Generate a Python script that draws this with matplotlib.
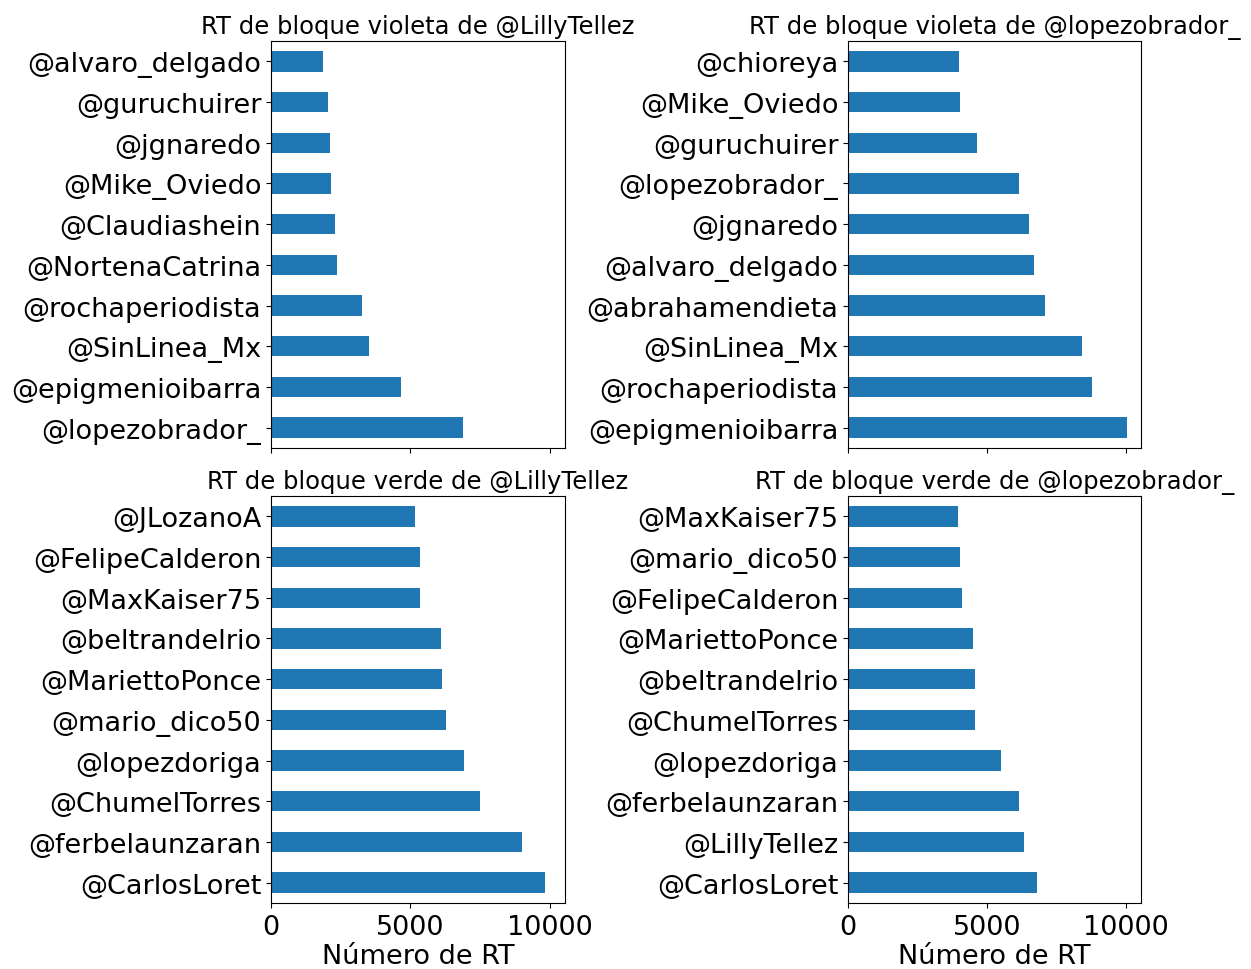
import matplotlib
matplotlib.use("Agg")
import matplotlib.pyplot as plt
import numpy as np

# listas de abajo hacia arriba (como salen de value_counts + barh)
violeta_lilly = ['@lopezobrador_', '@epigmenioibarra', '@SinLinea_Mx', '@rochaperiodista',
                 '@NortenaCatrina', '@Claudiashein', '@Mike_Oviedo', '@jgnaredo',
                 '@guruchuirer', '@alvaro_delgado']
violeta_lilly_n = [6876, 4656, 3528, 3276, 2352, 2292, 2136, 2100, 2040, 1848]

violeta_amlo = ['@epigmenioibarra', '@rochaperiodista', '@SinLinea_Mx', '@abrahamendieta',
                '@alvaro_delgado', '@jgnaredo', '@lopezobrador_', '@guruchuirer',
                '@Mike_Oviedo', '@chioreya']
violeta_amlo_n = [10040, 8782, 8433, 7098, 6701, 6508, 6159, 4632, 4030, 3982]

verde_lilly = ['@CarlosLoret', '@ferbelaunzaran', '@ChumelTorres', '@lopezdoriga',
               '@mario_dico50', '@MariettoPonce', '@beltrandelrio', '@MaxKaiser75',
               '@FelipeCalderon', '@JLozanoA']
verde_lilly_n = [9840, 9000, 7512, 6924, 6276, 6132, 6084, 5340, 5340, 5148]

verde_amlo = ['@CarlosLoret', '@LillyTellez', '@ferbelaunzaran', '@lopezdoriga',
              '@ChumelTorres', '@beltrandelrio', '@MariettoPonce', '@FelipeCalderon',
              '@mario_dico50', '@MaxKaiser75']
verde_amlo_n = [6809, 6316, 6159, 5522, 4583, 4583, 4487, 4090, 4042, 3946]

titulos = ['RT de bloque violeta de @LillyTellez', 'RT de bloque violeta de @lopezobrador_',
           'RT de bloque verde de @LillyTellez', 'RT de bloque verde de @lopezobrador_']

W, H = 1251, 970
fig = plt.figure(figsize=(W/100, H/100), dpi=100)

def box(l, r, t, b):
    return [l/W, 1 - b/H, (r - l)/W, (b - t)/H]

ax1 = fig.add_axes(box(271, 565, 42, 449))
ax2 = fig.add_axes(box(848, 1141, 42, 449), sharex=ax1)
ax3 = fig.add_axes(box(271, 565, 497, 904), sharex=ax1)
ax4 = fig.add_axes(box(848, 1141, 497, 904), sharex=ax1)

datos = [(violeta_lilly, violeta_lilly_n), (violeta_amlo, violeta_amlo_n),
         (verde_lilly, verde_lilly_n), (verde_amlo, verde_amlo_n)]

fs = 19.5
for ax, (nombres, n), tit in zip([ax1, ax2, ax3, ax4], datos, titulos):
    y = np.arange(len(nombres))
    ax.barh(y, n, height=0.5, color='#1f77b4')
    ax.set_yticks(y)
    ax.set_yticklabels(nombres, fontsize=fs)
    ax.set_ylim(-0.5, len(nombres) - 0.5)
    ax.tick_params(axis='x', labelsize=fs, pad=4.5)
    ax.set_title(tit, fontsize=17.5, pad=6)

ax1.set_xlim(0, 10040*1.05)
for ax in [ax1, ax2]:
    ax.tick_params(axis='x', labelbottom=False)
for ax in [ax3, ax4]:
    ax.set_xlabel('Número de RT', fontsize=fs, labelpad=2)

fig.savefig('out.png', dpi=100)
